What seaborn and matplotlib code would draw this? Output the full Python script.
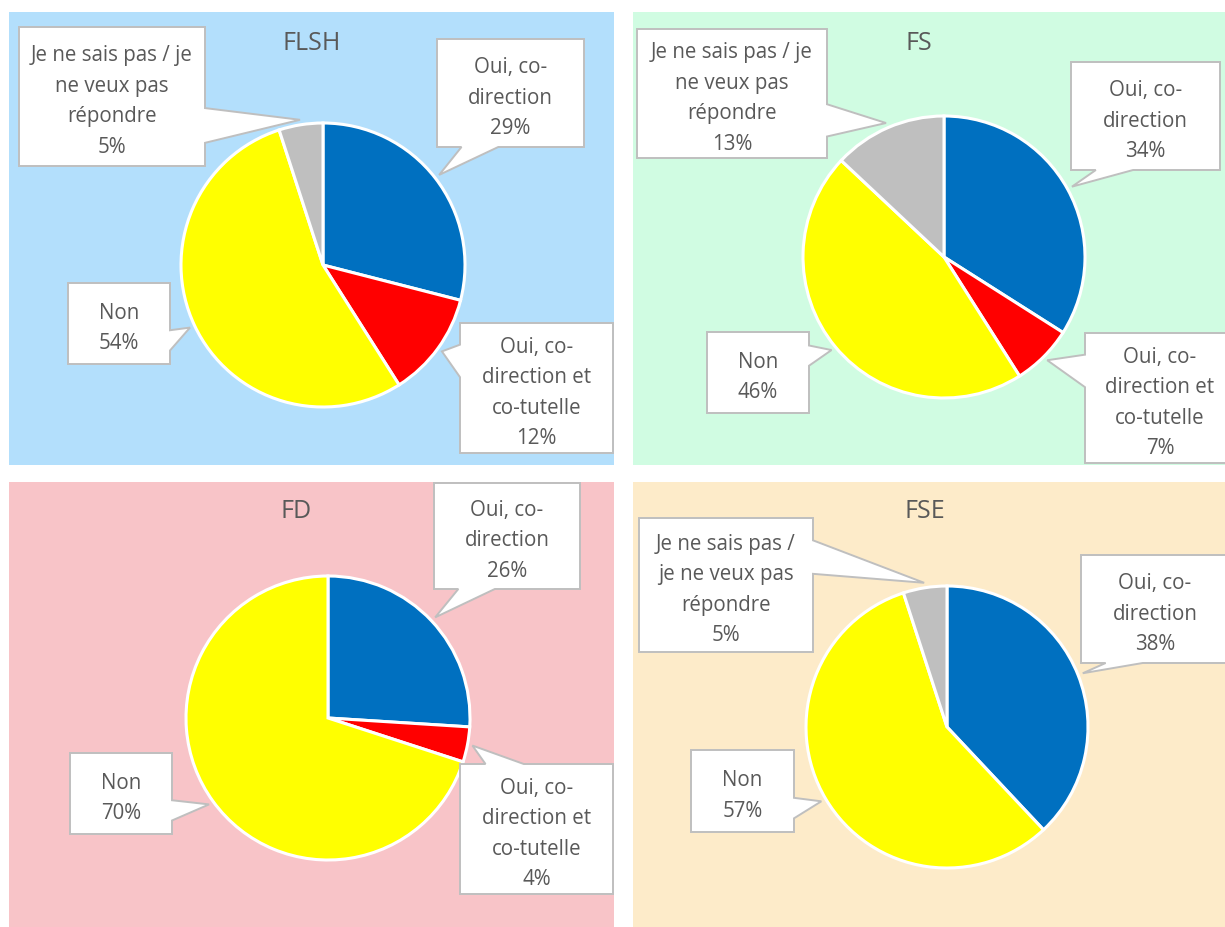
import numpy as np
import matplotlib
matplotlib.use("Agg")
import matplotlib.pyplot as plt
from matplotlib.patches import Polygon
import seaborn as sns

# data
panels = ["FLSH", "FS", "FD", "FSE"]
categories = ["Oui, co-direction", "Oui, co-direction et co-tutelle", "Non",
              "Je ne sais pas / je ne veux pas répondre"]
flsh = [29, 12, 54, 5]
fs = [34, 7, 46, 13]
fd = [26, 4, 70, 0]
fse = [38, 0, 57, 5]
values = {"FLSH": flsh, "FS": fs, "FD": fd, "FSE": fse}

# label text as shown in the callouts
wrapped = {
    "Oui, co-direction": "Oui, co-\ndirection",
    "Oui, co-direction et co-tutelle": "Oui, co-\ndirection et\nco-tutelle",
    "Non": "Non",
    "Je ne sais pas / je ne veux pas répondre": "Je ne sais pas / je\nne veux pas\nrépondre",
}
wrapped_fse = dict(wrapped)
wrapped_fse["Je ne sais pas / je ne veux pas répondre"] = "Je ne sais pas /\nje ne veux pas\nrépondre"

slice_colors = ["#0070C0", "#FF0000", "#FFFF00", "#BFBFBF"]
bg_colors = {"FLSH": "#B3DFFC", "FS": "#D0FCE2", "FD": "#F8C4C8", "FSE": "#FDEBC9"}

W, H = 1225, 927

# layout in picture pixels (x, y from top-left)
layout = {
    "FLSH": dict(rect=(9, 12, 614, 465), center=(323, 265), r=142, title=(312, 43),
                 boxes=[(437, 39, 584, 147), (460, 323, 613, 453),
                        (68, 283, 170, 364), (19, 27, 205, 166)]),
    "FS": dict(rect=(633, 12, 1225, 465), center=(944, 257), r=141, title=(919, 43),
               boxes=[(1071, 62, 1220, 170), (1085, 333, 1235, 463),
                      (707, 332, 809, 413), (637, 29, 827, 158)]),
    "FD": dict(rect=(9, 482, 614, 927), center=(328, 718), r=142, title=(296, 512),
               boxes=[(434, 483, 580, 589), (460, 764, 613, 894),
                      (70, 753, 172, 834), None]),
    "FSE": dict(rect=(633, 482, 1225, 927), center=(947, 727), r=141, title=(925, 512),
                boxes=[(1081, 555, 1229, 663), None,
                       (691, 750, 794, 832), (639, 518, 813, 652)]),
}

sns.set_theme(style="white")
plt.rcParams["font.family"] = ["Open Sans", "DejaVu Sans"]
text_color = "#595959"


def Y(y):
    return H - y


def callout(ax, box, tip):
    x0, y1, x1, y0 = box[0], Y(box[1]), box[2], Y(box[3])
    w, h = x1 - x0, y1 - y0
    mx, my = (x0 + x1) / 2, (y0 + y1) / 2
    dx, dy = tip[0] - mx, tip[1] - my
    corners = [(x0, y0), (x1, y0), (x1, y1), (x0, y1)]
    if abs(dx) / w > abs(dy) / h:
        offs = (-4 / 12, -1 / 12) if dy < 0 else (1 / 12, 4 / 12)
        a, b = my + h * offs[0], my + h * offs[1]
        if dx > 0:
            verts = corners[:2] + [(x1, a), tip, (x1, b)] + corners[2:]
        else:
            verts = corners + [(x0, b), tip, (x0, a)]
    else:
        offs = (-4 / 12, -1 / 12) if dx < 0 else (1 / 12, 4 / 12)
        a, b = mx + w * offs[0], mx + w * offs[1]
        if dy < 0:
            verts = corners[:1] + [(a, y0), tip, (b, y0)] + corners[1:]
        else:
            verts = corners[:3] + [(b, y1), tip, (a, y1)] + corners[3:]
    ax.add_patch(Polygon(verts, closed=True, facecolor="white", edgecolor="#BFBFBF",
                         linewidth=1.4, joinstyle="miter", zorder=5))
    return mx, my


fig = plt.figure(figsize=(W / 100, H / 100), dpi=100)

for name in panels:
    lay = layout[name]
    x0, y0, x1, y1 = lay["rect"]
    ax = fig.add_axes([x0 / W, 1 - y1 / H, (x1 - x0) / W, (y1 - y0) / H])

    vals = values[name]
    keep = [i for i, v in enumerate(vals) if v > 0]
    cx, cy = lay["center"]
    wedges, _ = ax.pie([vals[i] for i in keep], colors=[slice_colors[i] for i in keep],
                       startangle=90, counterclock=False, center=(cx, Y(cy)),
                       radius=lay["r"],
                       wedgeprops=dict(edgecolor="white", linewidth=2.2))
    ax.set_frame_on(True)
    ax.set_facecolor(bg_colors[name])

    labels = wrapped_fse if name == "FSE" else wrapped
    for wdg, i in zip(wedges, keep):
        box = lay["boxes"][i]
        ang = np.deg2rad((wdg.theta1 + wdg.theta2) / 2)
        rr = lay["r"] + 5
        tip = (cx + rr * np.cos(ang), Y(cy) + rr * np.sin(ang))
        tx, ty = callout(ax, box, tip)
        ax.text(tx, ty - 5, f"{labels[categories[i]]}\n{vals[i]}%", ha="center", va="center",
                fontsize=14.8, color=text_color, linespacing=1.6, zorder=6)

    tx, ty = lay["title"]
    ax.text(tx, Y(ty), name, ha="center", va="center", fontsize=18, color=text_color)

    ax.set_xlim(x0, x1)
    ax.set_ylim(Y(y1), Y(y0))
    ax.set_aspect("auto")
    ax.set_xticks([])
    ax.set_yticks([])
    for s in ax.spines.values():
        s.set_visible(False)

fig.savefig("out.png", dpi=100, facecolor="white")
